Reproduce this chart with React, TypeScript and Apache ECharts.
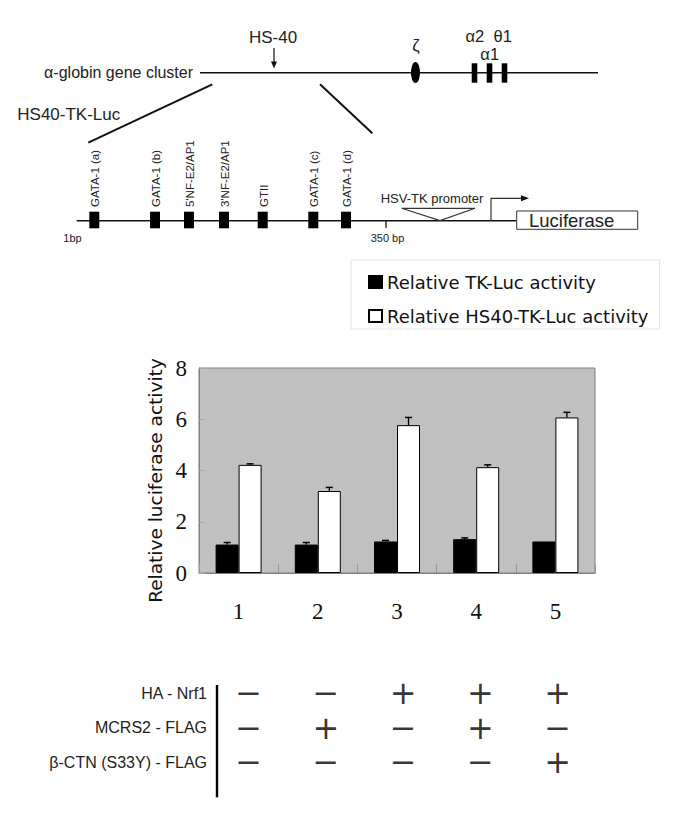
import React, { useEffect, useRef } from 'react';
import * as echarts from 'echarts';

// ---- data ----
const CATEGORIES = ['1', '2', '3', '4', '5'];
const SERIES_NAMES = ['Relative TK-Luc activity', 'Relative HS40-TK-Luc activity'];
const TK_LUC = [1.11, 1.11, 1.23, 1.32, 1.23];
const TK_LUC_ERR = [0.08, 0.08, 0.04, 0.05, 0];
const HS40_LUC = [4.22, 3.2, 5.77, 4.13, 6.07];
const HS40_LUC_ERR = [0.04, 0.14, 0.3, 0.09, 0.2];
const Y_MIN = 0;
const Y_MAX = 8;
const Y_INTERVAL = 2;
const Y_NAME = 'Relative luciferase activity';

const ROW_LABELS = ['HA - Nrf1', 'MCRS2 - FLAG', 'β-CTN (S33Y) - FLAG'];
const HA_NRF1 = ['−', '−', '+', '+', '+'];
const MCRS2_FLAG = ['−', '+', '−', '+', '−'];
const BCTN_FLAG = ['−', '−', '−', '−', '+'];

const ELEMENT_LABELS = ['GATA-1 (a)', 'GATA-1 (b)', "5'NF-E2/AP1", "3'NF-E2/AP1", 'GTII', 'GATA-1 (c)', 'GATA-1 (d)'];

const BAR_W = 23;

function diagram(): any[] {
  const F = 'Liberation Sans, Arial, sans-serif';
  const txt = (text: string, x: number, y: number, size: number, align = 'center', extra: any = {}) => ({
    type: 'text',
    x,
    y,
    ...extra,
    style: {
      text,
      fontSize: size,
      lineHeight: size,
      fontFamily: F,
      fill: '#222',
      align,
      verticalAlign: 'middle',
      textAlign: align,
      textVerticalAlign: 'middle',
    },
  });
  const ln = (x1: number, y1: number, x2: number, y2: number, w = 1.5, c = '#111') => ({
    type: 'line',
    shape: { x1, y1, x2, y2 },
    style: { stroke: c, lineWidth: w },
  });
  const els: any[] = [];
  // alpha-globin cluster
  els.push(txt('α-globin gene cluster', 193, 72.7, 16, 'right'));
  els.push(ln(200, 72.7, 598, 72.7, 1.6));
  els.push(txt('HS-40', 273, 37, 17));
  els.push(ln(274, 48, 274, 63, 1.2));
  els.push({ type: 'polygon', shape: { points: [[271, 61.5], [277, 61.5], [274, 68.5]] }, style: { fill: '#111' } });
  els.push(txt('ζ', 416, 45, 17));
  els.push({ type: 'ellipse', shape: { cx: 415.5, cy: 72.5, rx: 4.5, ry: 10.5 }, style: { fill: '#000' } });
  els.push(txt('α2  θ1', 488.7, 36, 16.5));
  els.push(txt('α1', 489.7, 53.5, 16.5));
  [474.5, 489.5, 504.5].forEach((cx) =>
    els.push({ type: 'rect', shape: { x: cx - 2.8, y: 63.3, width: 5.6, height: 19.4 }, style: { fill: '#000' } })
  );
  els.push(ln(212.3, 84.3, 88.3, 142.7, 2));
  els.push(ln(320, 84.3, 372.3, 133.3, 2));
  els.push(txt('HS40-TK-Luc', 17.3, 114.3, 17, 'left'));

  // construct
  els.push(ln(76.7, 220.7, 516.7, 220.7, 1.6));
  const boxX = [94.3, 155, 189, 224, 262.7, 313.3, 346];
  boxX.forEach((cx, i) => {
    els.push({ type: 'rect', shape: { x: cx - 5, y: 211.7, width: 10, height: 16.6 }, style: { fill: '#000' } });
    els.push(txt(ELEMENT_LABELS[i], cx + 1, 207, 11.5, 'left', { rotation: Math.PI / 2 }));
  });
  els.push(ln(386, 220.7, 386, 228, 1.3));
  els.push(txt('1bp', 72.5, 237.7, 11));
  els.push(txt('350 bp', 387.5, 237.7, 11));
  els.push(txt('HSV-TK promoter', 432, 198.3, 13));
  els.push({
    type: 'polygon',
    shape: { points: [[401.7, 208.3], [475, 208.3], [440, 220.5]] },
    style: { fill: 'none', stroke: '#333', lineWidth: 1.2 },
  });
  els.push({
    type: 'polyline',
    shape: { points: [[491, 220.7], [491, 198.3], [522, 198.3]] },
    style: { fill: 'none', stroke: '#333', lineWidth: 1.2 },
  });
  els.push({ type: 'polygon', shape: { points: [[521, 195.3], [521, 201.3], [529, 198.3]] }, style: { fill: '#111' } });
  els.push({
    type: 'rect',
    shape: { x: 516.7, y: 211, width: 121, height: 18.3 },
    style: { fill: '#fff', stroke: '#333', lineWidth: 1 },
  });
  els.push(txt('Luciferase', 529, 220.7, 18.5, 'left'));

  // separator of the treatment table
  els.push(ln(217, 685, 217, 797.3, 2.4, '#000'));
  return els;
}

function errorSeries(values: number[], errs: number[], offset: number) {
  return {
    type: 'custom',
    xAxisIndex: 0,
    yAxisIndex: 0,
    silent: true,
    z: 10,
    data: values.map((v, i) => [i, v, v + errs[i]]),
    renderItem: (params: any, api: any) => {
      const v = api.value(1);
      const h = api.value(2);
      if (h - v <= 0) return null;
      const lo = api.coord([api.value(0), v]);
      const hi = api.coord([api.value(0), h]);
      const x = lo[0] + offset;
      return {
        type: 'group',
        children: [
          { type: 'line', shape: { x1: x, y1: lo[1], x2: x, y2: hi[1] }, style: { stroke: '#000', lineWidth: 1.3 } },
          { type: 'line', shape: { x1: x - 3.5, y1: hi[1], x2: x + 3.5, y2: hi[1] }, style: { stroke: '#000', lineWidth: 1.5 } },
        ],
      };
    },
  };
}

export default function App() {
  const ref = useRef<HTMLDivElement>(null);
  useEffect(() => {
    if (!ref.current) return;
    const chart = echarts.init(ref.current, undefined, { renderer: 'svg' });
    const rows = [HA_NRF1, MCRS2_FLAG, BCTN_FLAG];
    const signData: any[] = [];
    rows.forEach((row, r) => row.forEach((s, c) => signData.push([c, r, s])));

    chart.setOption({
      animation: false,
      backgroundColor: '#fff',
      graphic: diagram(),
      legend: {
        orient: 'vertical',
        left: 351,
        top: 260,
        padding: [12, 11, 3, 17],
        itemGap: 14,
        itemWidth: 13,
        itemHeight: 12,
        icon: 'rect',
        backgroundColor: '#fff',
        borderColor: '#e2e2e2',
        borderWidth: 1,
        textStyle: { fontFamily: 'DejaVu Sans', fontSize: 18, color: '#111', lineHeight: 20 },
        data: SERIES_NAMES,
      },
      grid: [
        {
          left: 199,
          top: 368,
          width: 396,
          height: 205,
          show: true,
          backgroundColor: '#c0c0c0',
          borderColor: '#808080',
          borderWidth: 1,
        },
        { left: 210, top: 675.75, width: 386.25, height: 103.5, show: false },
      ],
      xAxis: [
        {
          type: 'category',
          gridIndex: 0,
          data: CATEGORIES,
          axisLine: { lineStyle: { color: '#808080' } },
          axisTick: { show: true, inside: true, length: 9, lineStyle: { color: '#9a9a9a' } },
          axisLabel: { fontFamily: 'Liberation Serif', fontSize: 23, color: '#111', margin: 27 },
        },
        { type: 'category', gridIndex: 1, data: CATEGORIES, show: false },
      ],
      yAxis: [
        {
          type: 'value',
          gridIndex: 0,
          min: Y_MIN,
          max: Y_MAX,
          interval: Y_INTERVAL,
          name: Y_NAME,
          nameLocation: 'middle',
          nameGap: 30,
          nameTextStyle: { fontFamily: 'DejaVu Sans', fontSize: 18.5, color: '#111', padding: [0, 20, 0, 0] },
          axisLine: { show: true, lineStyle: { color: '#808080' } },
          axisTick: { show: true, inside: true, length: 6, lineStyle: { color: '#a8a8a8' } },
          splitLine: { show: false },
          axisLabel: { fontFamily: 'Liberation Serif', fontSize: 23, color: '#111', margin: 12 },
        },
        {
          type: 'category',
          gridIndex: 1,
          data: ROW_LABELS,
          inverse: true,
          axisLine: { show: false },
          axisTick: { show: false },
          axisLabel: {
            fontFamily: 'Liberation Sans',
            fontSize: 16,
            color: '#222',
            margin: 3,
            padding: [9, 0, 0, 0],
          },
        },
      ],
      series: [
        {
          name: SERIES_NAMES[0],
          type: 'bar',
          xAxisIndex: 0,
          yAxisIndex: 0,
          data: TK_LUC,
          barWidth: BAR_W,
          barGap: '0%',
          itemStyle: { color: '#000', borderColor: '#000', borderWidth: 1 },
        },
        {
          name: SERIES_NAMES[1],
          type: 'bar',
          xAxisIndex: 0,
          yAxisIndex: 0,
          data: HS40_LUC,
          barWidth: BAR_W,
          barGap: '0%',
          itemStyle: { color: '#fff', borderColor: '#000', borderWidth: 1 },
        },
        errorSeries(TK_LUC, TK_LUC_ERR, -BAR_W / 2),
        errorSeries(HS40_LUC, HS40_LUC_ERR, BAR_W / 2),
        {
          type: 'scatter',
          xAxisIndex: 1,
          yAxisIndex: 1,
          silent: true,
          symbolSize: 1,
          itemStyle: { color: 'rgba(0,0,0,0)' },
          data: signData,
          label: {
            show: true,
            position: 'inside',
            formatter: (p: any) => p.value[2],
            fontFamily: 'DejaVu Sans',
            fontSize: 32,
            lineHeight: 30,
            color: '#000',
          },
        },
      ],
    });
    return () => chart.dispose();
  }, []);
  return (
    <div
      ref={ref}
      style={{ position: 'fixed', left: 0, top: 0, width: 685, height: 825, background: '#fff' }}
    />
  );
}
